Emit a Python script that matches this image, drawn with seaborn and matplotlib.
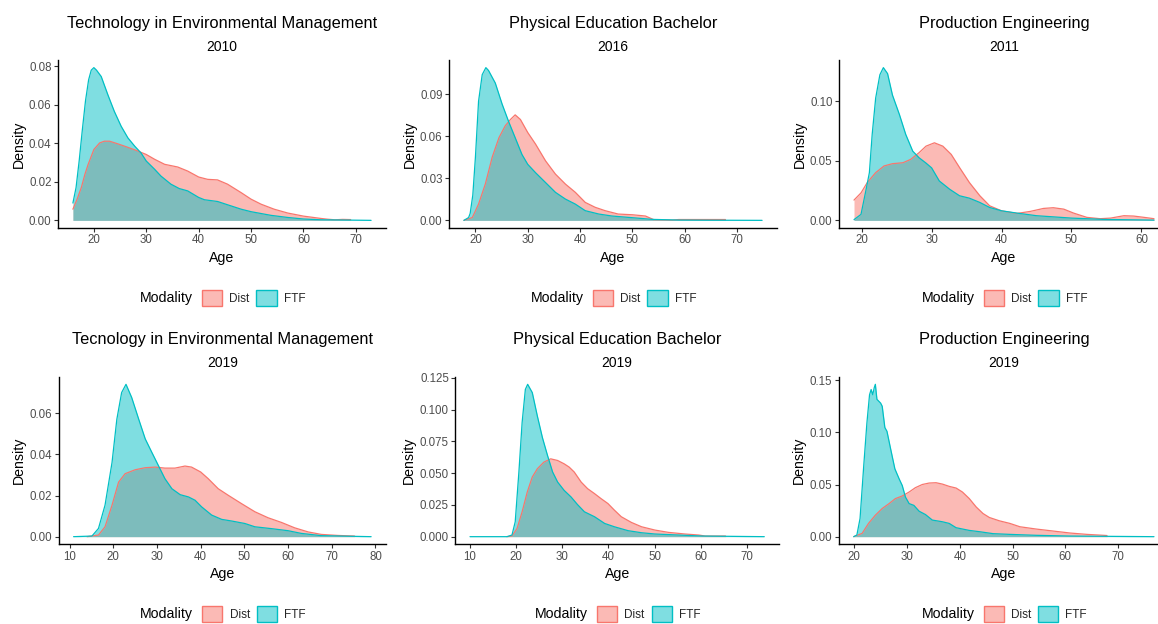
import numpy as np
import matplotlib
matplotlib.use("Agg")
import matplotlib.pyplot as plt
from matplotlib.patches import Patch
from matplotlib.colors import to_rgba
from matplotlib.ticker import MultipleLocator, FormatStrFormatter
import seaborn as sns

sns.set_theme(style="ticks")
plt.rcParams['font.family'] = ['Liberation Sans', 'DejaVu Sans']

# ---------------- data ----------------
titles = ["Technology in Environmental Management", "Physical Education Bachelor",
          "Production Engineering", "Tecnology in Environmental Management",
          "Physical Education Bachelor", "Production Engineering"]
years = ["2010", "2016", "2011", "2019", "2019", "2019"]
modalities = ["Dist", "FTF"]

p1_dist_age = [16.0, 16.8, 17.6, 18.3, 18.9, 20.0, 21.1, 22.0, 23.0, 24.6, 26.2, 28.1, 30.0, 31.6, 33.5, 36.0,
               37.9, 40.0, 41.7, 43.6, 45.5, 48.1, 50.0, 51.9, 54.4, 57.0, 60.0, 63.3, 64.6, 66.0, 67.5, 69.0]
p1_dist_den = [0.0058, 0.011, 0.017, 0.024, 0.029, 0.0368, 0.0402, 0.0411, 0.0411, 0.0397, 0.0382, 0.0363, 0.0342,
               0.0317, 0.0291, 0.0277, 0.0256, 0.0225, 0.0213, 0.021, 0.0188, 0.0144, 0.011, 0.0084, 0.0058, 0.0038,
               0.0022, 0.001, 0.0006, 0.0003, 0.0005, 0.0004]
p1_ftf_age = [16.0, 16.6, 17.2, 17.8, 18.4, 19.0, 19.5, 20.0, 20.5, 21.4, 22.7, 23.9, 25.2, 26.5, 27.8, 29.0, 30.0,
              31.6, 32.8, 34.7, 36.3, 37.9, 40.0, 41.1, 43.6, 45.5, 48.1, 50.0, 53.8, 57.0, 60.0, 63.3, 66.5, 72.9]
p1_ftf_den = [0.009, 0.017, 0.031, 0.047, 0.062, 0.073, 0.078, 0.0793, 0.078, 0.0747, 0.065, 0.0566, 0.0489, 0.0428,
              0.0385, 0.035, 0.0308, 0.0265, 0.023, 0.0188, 0.0165, 0.0153, 0.0119, 0.0107, 0.0098, 0.0081, 0.0058,
              0.0045, 0.0026, 0.0015, 0.0007, 0.0003, 0.0002, 0.0]

p2_dist_age = [17.8, 19.4, 20.6, 21.9, 23.2, 24.5, 25.7, 26.7, 27.6, 28.6, 30.0, 31.5, 33.4, 35.3, 37.2, 39.1,
               41.0, 42.9, 44.8, 47.3, 50.0, 52.5, 54.1, 57.6, 58.9, 67.8]
p2_dist_den = [0.0, 0.002, 0.0116, 0.026, 0.045, 0.059, 0.0675, 0.072, 0.0753, 0.072, 0.0627, 0.0544, 0.0425,
               0.033, 0.0259, 0.020, 0.0128, 0.0093, 0.0069, 0.0045, 0.004, 0.0031, 0.0005, 0.0002, 0.0006, 0.0006]
p2_ftf_age = [17.8, 18.7, 19.0, 19.5, 20.0, 20.6, 21.3, 22.0, 22.5, 23.8, 25.1, 26.4, 27.6, 28.9, 30.0, 31.5,
              33.4, 35.3, 37.2, 39.1, 41.0, 43.6, 46.1, 50.0, 53.8, 58.9, 65.0, 74.8]
p2_ftf_den = [0.0, 0.002, 0.005, 0.018, 0.045, 0.085, 0.104, 0.109, 0.107, 0.098, 0.083, 0.070, 0.059, 0.047,
              0.040, 0.034, 0.027, 0.020, 0.0152, 0.0116, 0.0069, 0.0045, 0.0031, 0.0019, 0.0007, 0.0002, 0.0001, 0.0]

p3_dist_age = [18.9, 19.9, 20.8, 22.0, 23.2, 24.4, 25.9, 27.0, 28.2, 29.2, 30.4, 31.6, 32.8, 34.0, 35.4, 36.9,
               38.3, 40.0, 42.2, 44.1, 46.0, 47.4, 48.9, 50.3, 52.2, 54.1, 55.6, 57.5, 58.9, 60.4, 61.8]
p3_dist_den = [0.017, 0.023, 0.0317, 0.040, 0.0456, 0.0475, 0.0483, 0.0511, 0.0567, 0.0622, 0.065, 0.0622, 0.0553,
               0.0442, 0.0317, 0.0206, 0.0122, 0.008, 0.0058, 0.0075, 0.010, 0.0106, 0.0094, 0.0061, 0.0025, 0.0014,
               0.0019, 0.0039, 0.0036, 0.0025, 0.0014]
p3_ftf_age = [18.9, 19.9, 20.6, 21.1, 21.5, 22.0, 22.6, 23.1, 23.7, 24.4, 25.4, 26.3, 27.3, 28.2, 29.2, 30.0,
              31.1, 32.6, 34.0, 35.4, 36.9, 38.3, 40.0, 42.2, 45.0, 50.0, 54.6, 61.8]
p3_ftf_den = [0.0006, 0.005, 0.025, 0.040, 0.072, 0.1025, 0.122, 0.128, 0.123, 0.105, 0.0886, 0.072, 0.058,
              0.0525, 0.048, 0.044, 0.033, 0.026, 0.0206, 0.0186, 0.015, 0.0108, 0.008, 0.0061, 0.0039, 0.0019,
              0.0008, 0.0002]

p4_dist_age = [14.0, 16.6, 18.1, 19.7, 21.2, 22.7, 25.0, 27.3, 29.6, 31.8, 34.1, 36.4, 37.9, 40.0, 41.7, 44.0,
               46.3, 49.3, 52.4, 55.4, 58.5, 61.5, 64.6, 67.6, 71.4, 75.2]
p4_dist_den = [0.0, 0.0008, 0.0048, 0.0153, 0.0265, 0.0306, 0.0325, 0.0335, 0.0338, 0.0333, 0.0333, 0.0343,
               0.0338, 0.0314, 0.0282, 0.0233, 0.0201, 0.0161, 0.0121, 0.0092, 0.0069, 0.0043, 0.0023, 0.0011,
               0.0006, 0.0003]
p4_ftf_age = [10.9, 15.1, 16.6, 18.1, 19.7, 20.8, 21.9, 22.9, 24.2, 25.8, 27.3, 28.8, 30.3, 31.8, 33.4, 35.3,
              37.2, 38.7, 40.2, 42.5, 44.8, 47.1, 50.1, 52.4, 56.2, 60.0, 63.0, 67.6, 79.0]
p4_ftf_den = [0.0, 0.0003, 0.004, 0.0153, 0.036, 0.057, 0.070, 0.074, 0.0676, 0.0571, 0.0475, 0.041, 0.0346,
              0.0282, 0.0233, 0.0204, 0.0193, 0.0177, 0.0145, 0.0105, 0.0084, 0.0076, 0.0064, 0.0048, 0.0039,
              0.0029, 0.0016, 0.0005, 0.0]

p5_dist_age = [18.0, 19.1, 20.2, 21.3, 22.4, 23.5, 24.6, 26.0, 27.5, 29.0, 30.4, 31.5, 32.6, 34.1, 35.5, 37.0,
               38.4, 39.9, 41.3, 42.8, 45.0, 47.2, 50.1, 53.0, 56.6, 59.6, 61.0, 65.4]
p5_dist_den = [0.0, 0.0005, 0.0065, 0.0196, 0.035, 0.047, 0.0535, 0.0587, 0.0613, 0.060, 0.0574, 0.0548, 0.0509,
               0.043, 0.0378, 0.0339, 0.030, 0.0261, 0.0209, 0.0157, 0.0112, 0.0078, 0.0052, 0.0034, 0.0021, 0.0013,
               0.0005, 0.0005]
p5_ftf_age = [10.0, 18.0, 19.1, 19.8, 20.6, 21.3, 22.0, 22.5, 23.5, 24.6, 25.7, 26.8, 27.9, 29.0, 30.4, 31.9,
              33.3, 34.8, 37.0, 39.2, 41.3, 44.3, 47.2, 50.1, 55.2, 60.3, 73.8]
p5_ftf_den = [0.0, 0.0, 0.0013, 0.0117, 0.051, 0.090, 0.116, 0.120, 0.1135, 0.095, 0.078, 0.064, 0.051, 0.043,
              0.0365, 0.0313, 0.0253, 0.0196, 0.0157, 0.0104, 0.0078, 0.0047, 0.0031, 0.0021, 0.0013, 0.0005, 0.0]

p6_dist_age = [19.9, 21.5, 22.7, 24.0, 25.3, 26.6, 27.8, 29.1, 30.4, 31.6, 32.9, 34.2, 35.5, 36.7, 38.0, 39.3,
               40.5, 41.8, 43.1, 44.4, 45.6, 47.5, 49.5, 51.4, 54.5, 57.7, 60.9, 64.1, 67.3, 67.9]
p6_dist_den = [0.0, 0.0032, 0.0127, 0.0206, 0.027, 0.0317, 0.0365, 0.039, 0.0428, 0.047, 0.050, 0.0514, 0.0517,
               0.0504, 0.0482, 0.0466, 0.0428, 0.0365, 0.0285, 0.0222, 0.0184, 0.0152, 0.0127, 0.0095, 0.0073,
               0.0054, 0.0035, 0.0022, 0.0013, 0.0011]
p6_ftf_age = [19.9, 20.5, 21.1, 21.8, 22.4, 22.9, 23.2, 23.5, 23.8, 24.0, 24.3, 25.0, 25.3, 25.8, 26.2, 26.9,
              27.7, 28.5, 29.1, 29.7, 30.4, 31.3, 32.3, 33.5, 34.8, 36.7, 38.0, 39.3, 41.8, 43.7, 46.3, 49.5,
              54.5, 60.9, 76.8]
p6_ftf_den = [0.0, 0.0016, 0.0174, 0.068, 0.109, 0.136, 0.141, 0.136, 0.143, 0.146, 0.1316, 0.128, 0.125, 0.1046,
              0.101, 0.084, 0.065, 0.0555, 0.049, 0.038, 0.0317, 0.030, 0.0244, 0.0212, 0.0159, 0.0143, 0.0127,
              0.0086, 0.006, 0.0048, 0.0029, 0.0022, 0.0013, 0.0006, 0.0]

series = [
    {"Dist": (p1_dist_age, p1_dist_den), "FTF": (p1_ftf_age, p1_ftf_den)},
    {"Dist": (p2_dist_age, p2_dist_den), "FTF": (p2_ftf_age, p2_ftf_den)},
    {"Dist": (p3_dist_age, p3_dist_den), "FTF": (p3_ftf_age, p3_ftf_den)},
    {"Dist": (p4_dist_age, p4_dist_den), "FTF": (p4_ftf_age, p4_ftf_den)},
    {"Dist": (p5_dist_age, p5_dist_den), "FTF": (p5_ftf_age, p5_ftf_den)},
    {"Dist": (p6_dist_age, p6_dist_den), "FTF": (p6_ftf_age, p6_ftf_den)},
]

# ---------------- style ----------------
colors = {"Dist": "#F8766D", "FTF": "#00BFC4"}
y_steps = [0.02, 0.03, 0.05, 0.02, 0.025, 0.05]
y_decimals = [2, 2, 2, 2, 3, 2]

W, H = 1158, 624
fig = plt.figure(figsize=(W / 100, H / 100), dpi=100)
fig.patch.set_facecolor("white")

# axes boxes in pixels: left, top, right, bottom
boxes = [(58, 60, 386, 228), (449, 60, 777, 228), (839, 60, 1169, 228),
         (58.7, 376.7, 386, 544.3), (455.3, 376.7, 779, 544.3), (838.7, 376.7, 1169, 544.3)]

PX = 0.72  # points per pixel at 100 dpi

for i, (l, t, r, b) in enumerate(boxes):
    ax = fig.add_axes([l / W, 1 - b / H, (r - l) / W, (b - t) / H])
    ax.set_facecolor("white")
    xs_all, ys_all = [], []
    for mod in modalities:
        x = np.asarray(series[i][mod][0])
        y = np.asarray(series[i][mod][1])
        xs_all.append(x)
        ys_all.append(y)
        ax.fill_between(x, 0, y, color=colors[mod], alpha=0.5, linewidth=0, zorder=2)
        sns.lineplot(x=x, y=y, ax=ax, color=colors[mod], linewidth=0.9,
                     errorbar=None, sort=False, legend=False, zorder=3)
    xmin = min(a.min() for a in xs_all)
    xmax = max(a.max() for a in xs_all)
    ymax = max(a.max() for a in ys_all)
    xr = xmax - xmin
    ax.set_xlim(xmin - 0.05 * xr, xmax + 0.05 * xr)
    ax.set_ylim(-0.05 * ymax, 1.05 * ymax)

    ax.xaxis.set_major_locator(MultipleLocator(10))
    ax.yaxis.set_major_locator(MultipleLocator(y_steps[i]))
    ax.yaxis.set_major_formatter(FormatStrFormatter(f"%.{y_decimals[i]}f"))

    sns.despine(ax=ax)
    for s in ["left", "bottom"]:
        ax.spines[s].set_color("black")
        ax.spines[s].set_linewidth(1.0)
    ax.tick_params(axis="both", length=2.6, width=0.8, color="#333333",
                   labelsize=8.3, labelcolor="#4D4D4D", pad=2)
    ax.set_xlabel("Age", fontsize=10.2, color="black", labelpad=3)
    ax.set_ylabel("Density", fontsize=10.2, color="black", labelpad=2.5)

    ax.annotate(titles[i], xy=(0.5, 1), xycoords="axes fraction",
                xytext=(0, 32.5 * PX), textcoords="offset points",
                ha="center", va="baseline", fontsize=11.8, color="black")
    ax.annotate(years[i], xy=(0.5, 1), xycoords="axes fraction",
                xytext=(0, 9.5 * PX), textcoords="offset points",
                ha="center", va="baseline", fontsize=10, color="black")

    handles = [Patch(facecolor=to_rgba(colors[m], 0.5), edgecolor=colors[m], linewidth=1.0)
               for m in modalities]
    axw, axh = r - l, b - t
    leg = ax.legend(handles, modalities, ncol=2, loc="center left",
                    bbox_to_anchor=(0.5 - 20 / axw, -70 / axh), bbox_transform=ax.transAxes,
                    frameon=False, fontsize=8.5, handlelength=1.7, handleheight=1.75,
                    handletextpad=0.6, columnspacing=0.6, borderpad=0, borderaxespad=0)
    ax.annotate("Modality", xy=(0, 0.5), xycoords=leg, xytext=(-9 * PX, 0),
                textcoords="offset points", ha="right", va="center",
                fontsize=10.2, color="black")

fig.savefig("out.png", dpi=100)
